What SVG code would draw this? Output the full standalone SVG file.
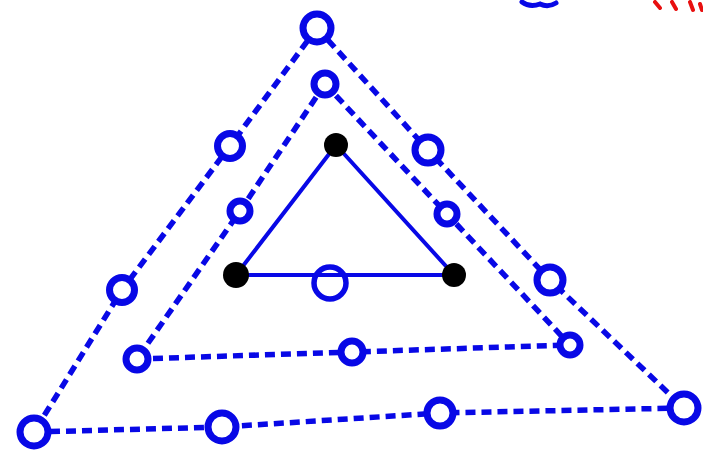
<svg xmlns="http://www.w3.org/2000/svg" width="703" height="454" viewBox="0 0 703 454">
<style>
.dash{stroke:#0808e6;stroke-width:5.5;stroke-dasharray:10 6;fill:none}
.solid{stroke:#0808e6;stroke-width:4;fill:none;stroke-linecap:round}
.ring{stroke:#0808e6;stroke-width:7;fill:#fff}
.ringo{stroke:#0808e6;stroke-width:5.5;fill:none}
.dot{fill:#000}
</style>
<rect width="703" height="454" fill="#fff"/>
<g id="scribbles">
<path d="M522 2 Q530 8 540 4 Q548 8 556 3" stroke="#0808e6" stroke-width="5" fill="none" stroke-linecap="round"/>
<path d="M655 2 L660 8 M672 2 L676 9 M690 2 L693 10 M700 4 L702 10" stroke="#e81010" stroke-width="4" fill="none" stroke-linecap="round"/>
</g>
<g id="connectors">
<path class="dash" d="M317 28 L230 146 L122 290 L34 432"/>
<path class="dash" d="M317 28 L428 150 L550 280 L684 408"/>
<path class="dash" d="M34 432 L222 427 L440 413 L684 408"/>
<path class="dash" d="M325 84 L240 211 L137 359"/>
<path class="dash" d="M325 84 L447 214 L570 345"/>
<path class="dash" d="M137 359 L352 352 L570 345"/>
<path class="solid" d="M336 145 L236 275 L454 275 Z"/>
</g>
<g id="outer-top"><circle class="ring" cx="317" cy="28" r="14"/></g>
<g id="outer-left-1"><circle class="ring" cx="230" cy="146" r="12.5"/></g>
<g id="outer-left-2"><circle class="ring" cx="122" cy="290" r="12.5"/></g>
<g id="outer-bottom-left"><circle class="ring" cx="34" cy="432" r="14"/></g>
<g id="outer-right-1"><circle class="ring" cx="428" cy="150" r="13"/></g>
<g id="outer-right-2"><circle class="ring" cx="550" cy="280" r="13"/></g>
<g id="outer-bottom-right"><circle class="ring" cx="684" cy="408" r="14"/></g>
<g id="outer-bottom-1"><circle class="ring" cx="222" cy="427" r="14"/></g>
<g id="outer-bottom-2"><circle class="ring" cx="440" cy="413" r="13"/></g>
<g id="mid-top"><circle class="ring" cx="325" cy="84" r="11"/></g>
<g id="mid-left"><circle class="ring" cx="240" cy="211" r="10"/></g>
<g id="mid-bottom-left"><circle class="ring" cx="137" cy="359" r="11"/></g>
<g id="mid-right"><circle class="ring" cx="447" cy="214" r="10"/></g>
<g id="mid-bottom-right"><circle class="ring" cx="570" cy="345" r="10"/></g>
<g id="mid-bottom"><circle class="ring" cx="352" cy="352" r="11"/></g>
<g id="inner-top"><circle class="dot" cx="336" cy="145" r="12"/></g>
<g id="inner-left"><circle class="dot" cx="236" cy="275" r="13"/></g>
<g id="inner-right"><circle class="dot" cx="454" cy="275" r="12"/></g>
<g id="inner-bottom"><circle class="ringo" cx="330" cy="283" r="16"/></g>
</svg>
